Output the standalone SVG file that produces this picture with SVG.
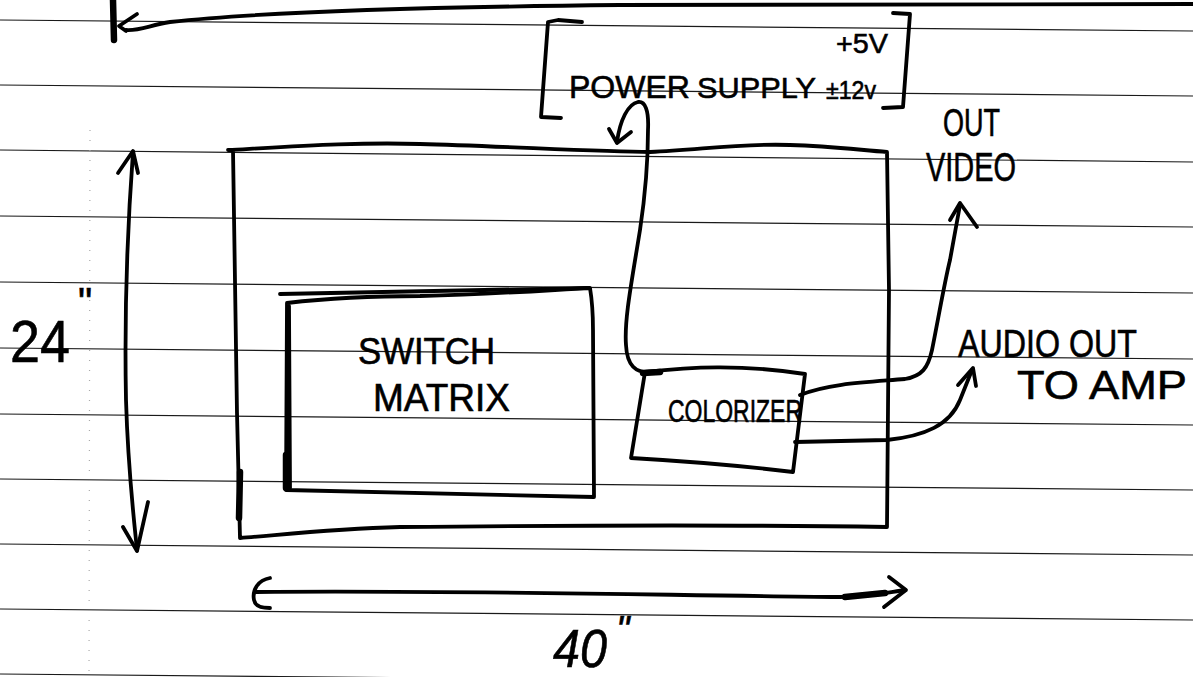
<svg xmlns="http://www.w3.org/2000/svg" width="1193" height="677" viewBox="0 0 1193 677">
<defs>
<style>
.rule{stroke:#1a1a1a;stroke-width:1.2;fill:none}
.margin{stroke:#aaa;stroke-width:1.2;stroke-dasharray:1 9;fill:none}
.ink{stroke:#000;stroke-width:3.8;fill:none;stroke-linecap:round;stroke-linejoin:round}
.thick{stroke:#000;stroke-width:6.5;fill:none;stroke-linecap:round}
.hand{font-family:"Liberation Sans","DejaVu Sans",sans-serif;fill:#000;stroke:#000;stroke-width:0.6}
</style>
</defs>
<rect width="1193" height="677" fill="#fff"/>
<g id="paper">
<line class="rule" x1="0" y1="20" x2="1193" y2="31"/>
<line class="rule" x1="0" y1="85" x2="1193" y2="96"/>
<line class="rule" x1="0" y1="150" x2="1193" y2="162"/>
<line class="rule" x1="0" y1="216" x2="1193" y2="227"/>
<line class="rule" x1="0" y1="282" x2="1193" y2="293"/>
<line class="rule" x1="0" y1="348" x2="1193" y2="359"/>
<line class="rule" x1="0" y1="414" x2="1193" y2="425"/>
<line class="rule" x1="0" y1="479" x2="1193" y2="490"/>
<line class="rule" x1="0" y1="544" x2="1193" y2="555"/>
<line class="rule" x1="0" y1="609" x2="1193" y2="620"/>
<line class="rule" x1="0" y1="674" x2="1193" y2="685"/>
<line class="margin" x1="90" y1="130" x2="89" y2="677"/>
</g>
<g id="outer-box">
<path class="ink" d="M 228 150 C 300 146 360 142 420 144 C 500 146 600 152 650 152 C 700 150 740 143 790 145 C 830 146 860 150 887 152 L 889 290 L 887 527 C 700 524 500 526 400 527 C 330 529 280 535 240 538 L 237 413 L 233 150"/>
<path class="thick" d="M 240 472 L 239 518"/>
</g>
<g id="switch-matrix">
<path class="ink" d="M 287 303 C 330 298 380 296 420 296 C 500 294 550 290 590 288 C 592 300 593 310 593 330 L 594 497 C 500 495 400 492 286 490 Z"/>
<path class="ink" d="M 280 294 C 400 292 500 290 588 288"/>
<path class="ink" d="M 289 306 L 290 488"/>
<path class="thick" d="M 286 455 L 286 488"/>
<text class="hand" x="358" y="364" font-size="36" textLength="137" lengthAdjust="spacingAndGlyphs">SWITCH</text>
<text class="hand" x="373" y="411" font-size="38" textLength="137" lengthAdjust="spacingAndGlyphs">MATRIX</text>
</g>
<g id="colorizer">
<path class="ink" d="M 645 372 C 690 367 740 364 805 374 L 793 472 C 760 468 700 462 631 458 Z"/>
<path class="thick" d="M 643 373 L 660 372"/>
<text class="hand" x="668" y="422" font-size="32" textLength="134" lengthAdjust="spacingAndGlyphs">COLORIZER</text>
</g>
<g id="power-supply">
<path class="ink" d="M 582 22 L 558 20 L 548 22 L 541 117 L 561 118"/>
<path class="ink" d="M 893 13 L 910 14 L 903 107 L 883 108"/>
<text class="hand" x="569" y="98" font-size="32" textLength="121" lengthAdjust="spacingAndGlyphs">POWER</text>
<text class="hand" x="697" y="98" font-size="30" textLength="119" lengthAdjust="spacingAndGlyphs">SUPPLY</text>
<text class="hand" x="836" y="53" font-size="28" textLength="52" lengthAdjust="spacingAndGlyphs">+5V</text>
<text class="hand" x="826" y="99" font-size="26" textLength="50" lengthAdjust="spacingAndGlyphs">±12v</text>
</g>
<g id="video-out">
<text class="hand" x="943" y="136" font-size="38" textLength="57" lengthAdjust="spacingAndGlyphs">OUT</text>
<text class="hand" x="926" y="181" font-size="40" textLength="90" lengthAdjust="spacingAndGlyphs">VIDEO</text>
</g>
<g id="audio-out">
<text class="hand" x="958" y="357" font-size="38" textLength="179" lengthAdjust="spacingAndGlyphs">AUDIO OUT</text>
<text class="hand" x="1017" y="399" font-size="40" textLength="170" lengthAdjust="spacingAndGlyphs">TO AMP</text>
</g>
<g id="dim-height">
<text class="hand" x="10" y="362" font-size="60" textLength="60" lengthAdjust="spacingAndGlyphs">24</text>
<text class="hand" x="78" y="316" font-size="40">"</text>
</g>
<g id="dim-width">
<text class="hand" x="553" y="667" font-size="54" font-style="italic" textLength="54" lengthAdjust="spacingAndGlyphs">40</text>
<text class="hand" x="616" y="643" font-size="38" font-style="italic">"</text>
</g>
<g id="connectors">
<path class="ink" d="M 1193 4 L 620 5 C 420 7 260 12 170 22 C 150 25 140 31 126 30"/>
<path class="ink" d="M 137 14 L 119 26 L 126 31"/>
<path class="thick" d="M 113 0 L 114 40"/>
<path class="ink" d="M 133 152 C 128 220 124 300 126 400 C 128 470 134 520 137 550"/>
<path class="ink" d="M 118 173 L 133 151 L 138 173"/>
<path class="ink" d="M 123 527 L 137 551 L 148 502"/>
<path class="ink" d="M 270 578 C 258 580 252 590 254 600 C 255 606 262 608 270 608"/>
<path class="ink" d="M 256 592 C 450 590 650 595 840 597 C 870 597 890 592 905 590"/>
<path class="ink" d="M 889 577 L 906 590 L 884 607"/>
<path class="thick" d="M 845 597 L 885 593"/>
<path class="ink" d="M 650 372 C 636 373 627 366 626 345 C 624 320 632 280 640 230 C 646 190 648 160 648 130 C 649 110 645 101 638 102 C 628 104 620 120 617 142"/>
<path class="ink" d="M 609 129 L 617 143 L 631 132"/>
<path class="ink" d="M 800 395 C 830 383 870 382 905 379 C 922 376 928 368 932 350 C 938 320 945 280 950 260 L 960 205"/>
<path class="ink" d="M 950 220 L 960 203 L 977 227"/>
<path class="ink" d="M 795 442 L 887 440 C 925 436 950 425 960 400 L 972 370"/>
<path class="ink" d="M 958 385 L 973 368 L 976 386"/>
</g>
</svg>
